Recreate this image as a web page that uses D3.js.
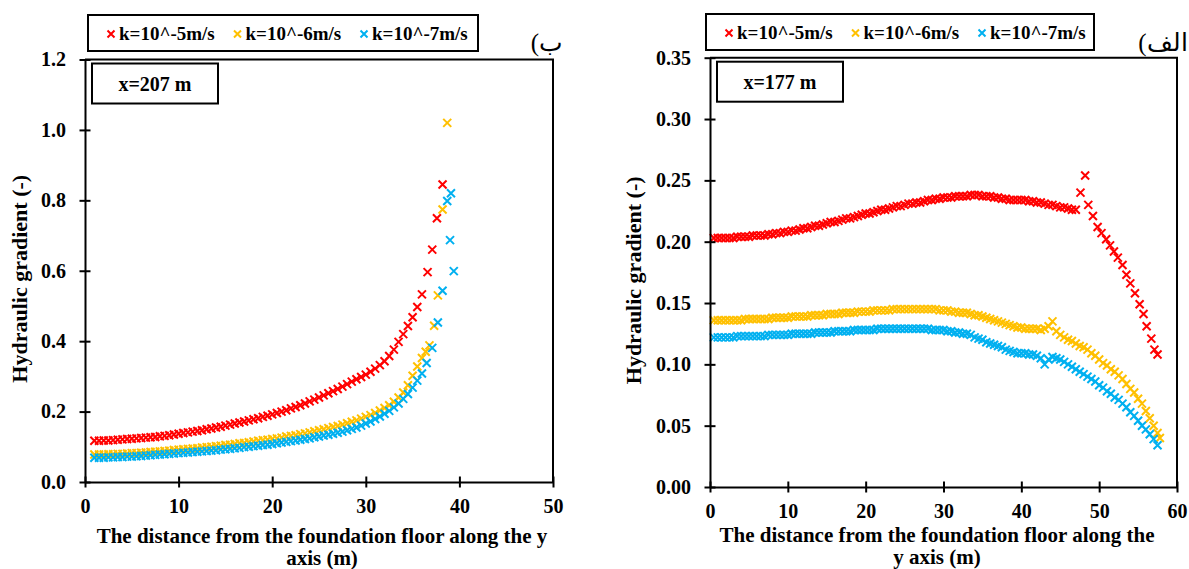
<!DOCTYPE html>
<html>
<head>
<meta charset="utf-8">
<script src="https://cdn.jsdelivr.net/npm/d3@7"></script>
<style>
  body { margin: 0; background: #fff; }
  text { font-family: "Liberation Serif", "Times New Roman", serif; font-weight: bold; }
</style>
</head>
<body>
<svg id="chart" width="1189" height="569"></svg>
<script>
// ---- data: panel ب (x = 207 m) ----
const gridB = [1, 1.5, 2, 2.5, 3, 3.5, 4, 4.5, 5, 5.5, 6, 6.5, 7, 7.5, 8, 8.5, 9, 9.5,
  10, 10.5, 11, 11.5, 12, 12.5, 13, 13.5, 14, 14.5, 15, 15.5, 16, 16.5, 17, 17.5, 18, 18.5, 19, 19.5,
  20, 20.5, 21, 21.5, 22, 22.5, 23, 23.5, 24, 24.5, 25, 25.5, 26, 26.5, 27, 27.5, 28, 28.5, 29, 29.5,
  30, 30.5, 31, 31.5, 32, 32.5, 33, 33.5, 34, 34.5, 35, 35.5, 36];

const redB = [0.117, 0.117, 0.118, 0.118, 0.119, 0.120, 0.121, 0.122, 0.123, 0.124, 0.125, 0.126, 0.127, 0.128, 0.130, 0.131, 0.133, 0.135,
  0.137, 0.139, 0.141, 0.143, 0.145, 0.147, 0.150, 0.152, 0.155, 0.157, 0.160, 0.163, 0.166, 0.169, 0.172, 0.175, 0.178, 0.181, 0.185, 0.188,
  0.192, 0.196, 0.200, 0.204, 0.209, 0.213, 0.218, 0.223, 0.229, 0.234, 0.240, 0.246, 0.252, 0.258, 0.264, 0.271, 0.278, 0.285, 0.292, 0.298,
  0.305, 0.313, 0.322, 0.332, 0.343, 0.358, 0.376];
const redBTail = [[33.5, 0.398], [34.0, 0.420], [34.5, 0.443], [35.0, 0.468], [35.5, 0.497], [36.0, 0.533],
  [36.6, 0.596], [37.1, 0.660], [37.6, 0.749], [38.2, 0.845]];

const yellowB = [0.078, 0.078, 0.078, 0.079, 0.079, 0.080, 0.080, 0.081, 0.082, 0.082, 0.083, 0.084, 0.085, 0.086, 0.087, 0.088, 0.089, 0.091,
  0.092, 0.093, 0.094, 0.095, 0.096, 0.098, 0.099, 0.100, 0.102, 0.103, 0.105, 0.106, 0.108, 0.110, 0.111, 0.113, 0.115, 0.117, 0.119, 0.120,
  0.122, 0.124, 0.126, 0.129, 0.131, 0.133, 0.136, 0.138, 0.141, 0.144, 0.147, 0.150, 0.153, 0.156, 0.159, 0.163, 0.167, 0.171, 0.175, 0.180,
  0.185, 0.190, 0.196, 0.203, 0.210, 0.218, 0.228, 0.240, 0.254, 0.275, 0.302, 0.328, 0.352];
const yellowBTail = [[36.4, 0.370], [36.8, 0.388], [37.3, 0.444], [37.7, 0.530], [38.2, 0.774], [38.7, 1.020]];

const blueB = [0.069, 0.069, 0.069, 0.070, 0.070, 0.071, 0.071, 0.072, 0.072, 0.073, 0.074, 0.075, 0.076, 0.077, 0.078, 0.079, 0.080, 0.081,
  0.082, 0.083, 0.084, 0.085, 0.086, 0.087, 0.088, 0.089, 0.090, 0.092, 0.093, 0.094, 0.096, 0.097, 0.099, 0.100, 0.102, 0.103, 0.105, 0.106,
  0.108, 0.110, 0.112, 0.114, 0.116, 0.118, 0.120, 0.122, 0.124, 0.127, 0.129, 0.132, 0.134, 0.137, 0.140, 0.143, 0.147, 0.151, 0.155, 0.160,
  0.166, 0.172, 0.179, 0.186, 0.194, 0.202, 0.212, 0.223, 0.236, 0.250, 0.268, 0.288, 0.308];
const blueBTail = [[36.5, 0.338], [37.1, 0.381], [37.7, 0.453], [38.2, 0.543], [39.4, 0.599], [39.0, 0.687], [38.7, 0.798], [39.1, 0.820]];

// ---- data: panel الف (x = 177 m) ----
const gridA = [0.5, 1, 1.5, 2, 2.5, 3, 3.5, 4, 4.5, 5, 5.5, 6, 6.5, 7, 7.5, 8, 8.5, 9, 9.5, 10,
  10.5, 11, 11.5, 12, 12.5, 13, 13.5, 14, 14.5, 15, 15.5, 16, 16.5, 17, 17.5, 18, 18.5, 19, 19.5, 20,
  20.5, 21, 21.5, 22, 22.5, 23, 23.5, 24, 24.5, 25, 25.5, 26, 26.5, 27, 27.5, 28, 28.5, 29, 29.5, 30,
  30.5, 31, 31.5, 32, 32.5, 33, 33.5, 34, 34.5, 35, 35.5, 36, 36.5, 37, 37.5, 38, 38.5, 39, 39.5, 40,
  40.5, 41, 41.5, 42, 42.5, 43, 43.5, 44, 44.5, 45, 45.5, 46, 46.5, 47, 47.5, 48, 48.5, 49, 49.5, 50,
  50.5, 51, 51.5, 52, 52.5, 53, 53.5, 54, 54.5, 55, 55.5, 56, 56.5, 57, 57.5];

const redA = [0.203, 0.203, 0.203, 0.203, 0.203, 0.203, 0.204, 0.204, 0.204, 0.204,
  0.205, 0.205, 0.205, 0.205, 0.206, 0.206, 0.207, 0.207, 0.208, 0.208,
  0.209, 0.209, 0.210, 0.211, 0.211, 0.212, 0.213, 0.213, 0.214, 0.215,
  0.216, 0.216, 0.217, 0.218, 0.219, 0.219, 0.220, 0.221, 0.222, 0.223,
  0.223, 0.224, 0.225, 0.226, 0.226, 0.227, 0.228, 0.229, 0.229, 0.230,
  0.231, 0.231, 0.232, 0.232, 0.233, 0.234, 0.234, 0.235, 0.235, 0.236,
  0.236, 0.236, 0.237, 0.237, 0.237, 0.237, 0.238, 0.238, 0.238, 0.237,
  0.237, 0.237, 0.236, 0.236, 0.235, 0.235, 0.234, 0.234, 0.234, 0.234,
  0.234, 0.233, 0.233, 0.232, 0.232, 0.231, 0.230, 0.230, 0.229, 0.228,
  0.228, 0.227, 0.226, 0.226];
const redATail = [[47.6, 0.240], [48.2, 0.254], [48.6, 0.230], [49.2, 0.221], [49.8, 0.212], [50.3, 0.207], [50.9, 0.202],
  [51.4, 0.197], [51.9, 0.192], [52.4, 0.187], [53.0, 0.181], [53.5, 0.173], [54.0, 0.166], [54.6, 0.158], [55.2, 0.149],
  [55.7, 0.141], [56.1, 0.131], [56.7, 0.121], [57.1, 0.112], [57.5, 0.108]];

const yellowA = [0.136, 0.136, 0.136, 0.136, 0.136, 0.136, 0.136, 0.136, 0.137, 0.137,
  0.137, 0.137, 0.137, 0.137, 0.137, 0.138, 0.138, 0.138, 0.138, 0.138,
  0.139, 0.139, 0.139, 0.139, 0.139, 0.140, 0.140, 0.140, 0.140, 0.141,
  0.141, 0.141, 0.141, 0.142, 0.142, 0.142, 0.142, 0.143, 0.143, 0.143,
  0.143, 0.144, 0.144, 0.144, 0.144, 0.144, 0.145, 0.145, 0.145, 0.145,
  0.145, 0.145, 0.145, 0.145, 0.145, 0.145, 0.145, 0.145, 0.144, 0.144,
  0.144, 0.143, 0.143, 0.142, 0.142, 0.142, 0.141, 0.140, 0.140, 0.139,
  0.138, 0.137, 0.136, 0.135, 0.134, 0.133, 0.132, 0.131, 0.130, 0.130,
  0.129, 0.129, 0.129, 0.129, 0.128, 0.129, 0.131, 0.135, 0.127, 0.124,
  0.122, 0.120, 0.119, 0.117, 0.115, 0.114, 0.112, 0.109, 0.107, 0.104,
  0.101, 0.099, 0.096, 0.094, 0.091, 0.088, 0.084, 0.080, 0.077, 0.072,
  0.068, 0.062, 0.056, 0.050, 0.044];
const yellowATail = [[57.8, 0.040]];

const blueA = [0.122, 0.122, 0.122, 0.122, 0.122, 0.122, 0.123, 0.123, 0.123, 0.123,
  0.123, 0.123, 0.123, 0.123, 0.124, 0.124, 0.124, 0.124, 0.124, 0.124,
  0.125, 0.125, 0.125, 0.125, 0.125, 0.125, 0.126, 0.126, 0.126, 0.126,
  0.126, 0.127, 0.127, 0.127, 0.127, 0.127, 0.128, 0.128, 0.128, 0.128,
  0.128, 0.128, 0.129, 0.129, 0.129, 0.129, 0.129, 0.129, 0.129, 0.129,
  0.129, 0.129, 0.129, 0.129, 0.129, 0.129, 0.128, 0.128, 0.128, 0.128,
  0.127, 0.127, 0.126, 0.126, 0.125, 0.125, 0.124, 0.122, 0.121, 0.120,
  0.118, 0.117, 0.116, 0.115, 0.114, 0.112, 0.111, 0.110, 0.109, 0.109,
  0.109, 0.108, 0.108, 0.107, 0.105, 0.100, 0.104, 0.106, 0.105, 0.104,
  0.102, 0.100, 0.098, 0.096, 0.094, 0.092, 0.090, 0.088, 0.086, 0.083,
  0.081, 0.078, 0.076, 0.073, 0.071, 0.068, 0.065, 0.061, 0.058, 0.054,
  0.050, 0.047, 0.043, 0.039, 0.034];
const blueATail = [];

const legendLabels = ["k=10^-5m/s", "k=10^-6m/s", "k=10^-7m/s"];
const colors = ["#ff0000", "#ffc000", "#00b0f0"];
const yTitle = "Hydraulic gradient (-)";

const svg = d3.select("#chart");

const toPoints = (grid, ys, tail) => ys.map((v, i) => [grid[i], v]).concat(tail);

const crossPath = (s) => `M${-s},${-s}L${s},${s}M${s},${-s}L${-s},${s}`;

function drawPanel(p) {
  const x = d3.scaleLinear().domain(p.xDomain).range([p.left, p.right]);
  const y = d3.scaleLinear().domain(p.yDomain).range([p.bottom, p.top]);
  const g = svg.append("g");

  // frame: top and right edge
  g.append("path")
    .attr("d", `M${p.left},${p.top}H${p.right}V${p.bottom}`)
    .attr("fill", "none")
    .attr("stroke", "#000")
    .attr("stroke-width", 2);

  // markers
  p.series.forEach((s, i) => {
    g.append("g")
      .selectAll("path")
      .data(s)
      .join("path")
      .attr("transform", (d) => `translate(${x(d[0])},${y(d[1])})`)
      .attr("d", crossPath(4))
      .attr("stroke", colors[i])
      .attr("stroke-width", 2)
      .attr("fill", "none");
  });

  // axes
  const xAxis = g.append("g")
    .attr("transform", `translate(0,${p.bottom})`)
    .call(d3.axisBottom(x).tickValues(p.xTicks).tickFormat(d3.format("d"))
      .tickSizeInner(0).tickSizeOuter(0).tickPadding(17));
  const yAxis = g.append("g")
    .attr("transform", `translate(${p.left},0)`)
    .call(d3.axisLeft(y).tickValues(p.yTicks).tickFormat(d3.format(p.yFormat))
      .tickSizeInner(0).tickSizeOuter(0).tickPadding(19));

  [xAxis, yAxis].forEach((ax) => {
    ax.attr("font-family", null).attr("font-size", null);
    ax.select(".domain").attr("stroke-width", 2);
    ax.selectAll("text").attr("font-size", 20).attr("fill", "#000");
  });
  xAxis.selectAll(".tick line").attr("y1", -5.5).attr("y2", 5.5).attr("stroke-width", 2);
  yAxis.selectAll(".tick line").attr("x1", -5.5).attr("x2", 5.5).attr("stroke-width", 2);

  // axis titles
  g.append("text")
    .attr("transform", `translate(${p.yTitleX},${(p.top + p.bottom) / 2 + 8}) rotate(-90)`)
    .attr("text-anchor", "middle")
    .attr("font-size", 22)
    .text(yTitle);
  g.append("text")
    .attr("text-anchor", "middle")
    .attr("font-size", 21)
    .selectAll("tspan")
    .data(p.xTitle)
    .join("tspan")
    .attr("x", p.xTitleX)
    .attr("y", (d, i) => p.xTitleY + i * 22)
    .text((d) => d);

  // x = ... box
  g.append("rect")
    .attr("x", p.left + 7).attr("y", p.top + 4)
    .attr("width", 126).attr("height", 40)
    .attr("fill", "#fff").attr("stroke", "#000").attr("stroke-width", 2);
  g.append("text")
    .attr("x", p.left + 70).attr("y", p.top + 31)
    .attr("text-anchor", "middle")
    .attr("font-size", 20)
    .text(p.boxLabel);

  // legend
  const lg = g.append("g").attr("transform", `translate(${p.legend[0]},${p.legend[1]})`);
  lg.append("rect")
    .attr("width", p.legend[2]).attr("height", 36)
    .attr("fill", "#fff").attr("stroke", "#000").attr("stroke-width", 2);
  legendLabels.forEach((label, i) => {
    const ox = 23 + i * 126.5;
    lg.append("path")
      .attr("transform", `translate(${ox},19)`)
      .attr("d", crossPath(3.5))
      .attr("stroke", colors[i]).attr("stroke-width", 2);
    lg.append("text")
      .attr("x", ox + 8).attr("y", 25)
      .attr("font-size", 19)
      .text(label);
  });

  // panel letter (Arabic), paren drawn on the left as in the source
  g.append("text")
    .attr("x", p.letter[0]).attr("y", p.letter[1])
    .attr("text-anchor", "middle")
    .attr("font-size", 25)
    .style("font-weight", "normal")
    .text(p.letterText);
}

drawPanel({
  left: 85, right: 553, top: 59.5, bottom: 482,
  xDomain: [0, 50], yDomain: [0, 1.2],
  xTicks: [0, 10, 20, 30, 40, 50],
  yTicks: [0, 0.2, 0.4, 0.6, 0.8, 1.0, 1.2], yFormat: ".1f",
  series: [toPoints(gridB, redB, redBTail), toPoints(gridB, yellowB, yellowBTail), toPoints(gridB, blueB, blueBTail)],
  yTitleX: 27,
  xTitle: ["The distance from the foundation floor along the y", "axis (m)"],
  xTitleX: 322, xTitleY: 543,
  boxLabel: "x=207 m",
  legend: [88, 15, 390],
  letter: [547, 51], letterText: "(ب"
});

drawPanel({
  left: 710, right: 1177, top: 57.7, bottom: 487,
  xDomain: [0, 60], yDomain: [0, 0.35],
  xTicks: [0, 10, 20, 30, 40, 50, 60],
  yTicks: [0, 0.05, 0.1, 0.15, 0.2, 0.25, 0.3, 0.35], yFormat: ".2f",
  series: [toPoints(gridA, redA, redATail), toPoints(gridA, yellowA, yellowATail), toPoints(gridA, blueA, blueATail)],
  yTitleX: 641,
  xTitle: ["The distance from the foundation floor along the", "y axis (m)"],
  xTitleX: 937, xTitleY: 542,
  boxLabel: "x=177 m",
  legend: [706, 14, 388],
  letter: [1163, 51], letterText: "(الف"
});
</script>
</body>
</html>
